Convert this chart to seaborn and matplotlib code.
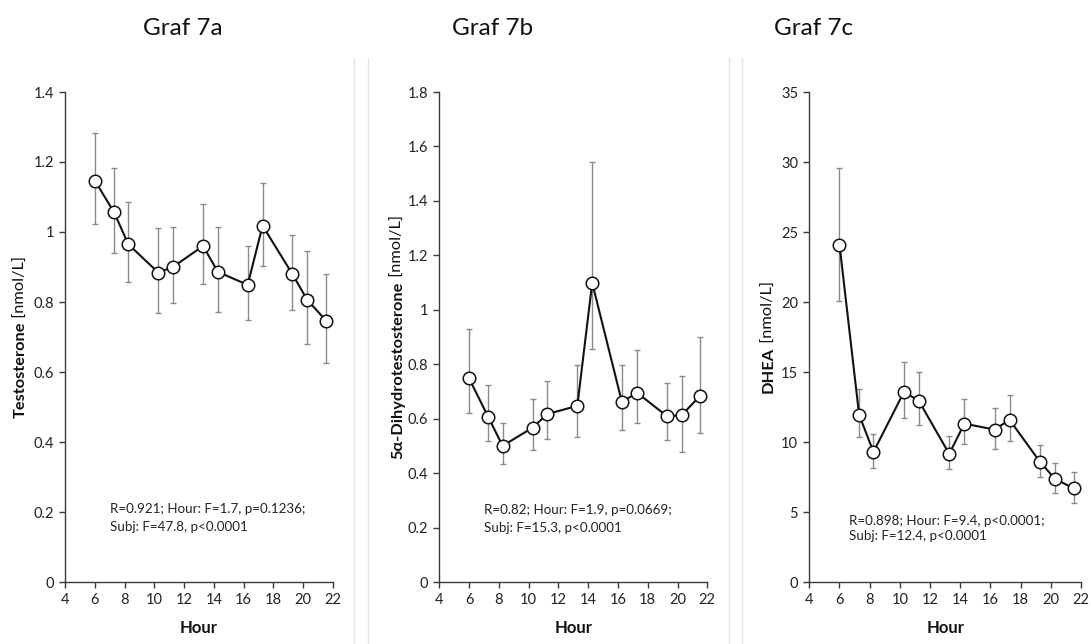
import matplotlib
matplotlib.use("Agg")
import matplotlib.pyplot as plt
from matplotlib.lines import Line2D
from matplotlib.ticker import FuncFormatter, MultipleLocator
import numpy as np
import seaborn as sns

sns.set_style("white")
plt.rcParams["font.family"] = ["Lato", "DejaVu Sans"]

# ---------------- data ----------------
hours = [6.0, 7.3, 8.25, 10.27, 11.25, 13.27, 14.27, 16.27, 17.27, 19.27, 20.27, 21.53]

testo_mean = [1.147, 1.056, 0.965, 0.884, 0.900, 0.960, 0.886, 0.849, 1.018, 0.880, 0.806, 0.747]
testo_upper = [1.282, 1.184, 1.085, 1.012, 1.015, 1.079, 1.014, 0.959, 1.141, 0.991, 0.945, 0.879]
testo_lower = [1.022, 0.940, 0.856, 0.769, 0.798, 0.851, 0.771, 0.749, 0.904, 0.777, 0.680, 0.627]

dht_mean = [0.748, 0.605, 0.500, 0.567, 0.617, 0.647, 1.099, 0.660, 0.696, 0.610, 0.612, 0.685]
dht_upper = [0.928, 0.724, 0.583, 0.672, 0.740, 0.797, 1.543, 0.797, 0.852, 0.730, 0.757, 0.899]
dht_lower = [0.622, 0.517, 0.433, 0.486, 0.524, 0.534, 0.856, 0.558, 0.584, 0.520, 0.479, 0.549]

dhea_mean = [24.10, 11.95, 9.29, 13.57, 12.95, 9.15, 11.31, 10.89, 11.58, 8.60, 7.37, 6.68]
dhea_upper = [29.55, 13.79, 10.58, 15.71, 14.98, 10.43, 13.05, 12.45, 13.34, 9.77, 8.53, 7.89]
dhea_lower = [20.06, 10.39, 8.15, 11.72, 11.22, 8.06, 9.86, 9.49, 10.08, 7.51, 6.37, 5.61]

titles = ["Graf 7a", "Graf 7b", "Graf 7c"]
ylabel_bold = ["Testosterone", "5α-Dihydrotestosterone", "DHEA"]
ylabel_unit = " [nmol/L]"
xlabel = "Hour"
stats_line1 = ["R=0.921; Hour: F=1.7, p=0.1236;",
               "R=0.82; Hour: F=1.9, p=0.0669;",
               "R=0.898; Hour: F=9.4, p<0.0001;"]
stats_line2 = ["Subj: F=47.8, p<0.0001",
               "Subj: F=15.3, p<0.0001",
               "Subj: F=12.4, p<0.0001"]
ymax = [1.4, 1.8, 35]
ystep = [0.2, 0.2, 5]

# ---------------- layout ----------------
W, H = 1091, 644
fig = plt.figure(figsize=(W / 100, H / 100), dpi=100)

ax_px = [(65, 268), (439.3, 268), (809.3, 271.7)]   # left, width in px
ax_top, ax_bot = 92, 582
title_left = [143, 452, 774]
ylab_base_x = [25, 402, 773]
stat_pos = [(7.0, 0.208, 0.156), (7.0, 0.263, 0.197), (6.6, 4.35, 3.25)]

means = [testo_mean, dht_mean, dhea_mean]
uppers = [testo_upper, dht_upper, dhea_upper]
lowers = [testo_lower, dht_lower, dhea_lower]

spine_col = "#3a3a3a"
fig.canvas.draw()
renderer = fig.canvas.get_renderer()

for i in range(3):
    l, w = ax_px[i]
    ax = fig.add_axes([l / W, (H - ax_bot) / H, w / W, (ax_bot - ax_top) / H])
    m = np.array(means[i]); up = np.array(uppers[i]); lo = np.array(lowers[i])
    ax.errorbar(hours, m, yerr=[m - lo, up - m], fmt="none", ecolor="#8a8a8a",
                elinewidth=1.0, capsize=2.5, capthick=1.0, zorder=1)
    sns.lineplot(x=hours, y=means[i], ax=ax, color="#111111", linewidth=1.5,
                 marker="o", markersize=9, markerfacecolor="white",
                 markeredgecolor="#111111", markeredgewidth=1.1,
                 errorbar=None, zorder=3)
    ax.set_xlim(4, 22)
    ax.set_ylim(0, ymax[i])
    ax.xaxis.set_major_locator(MultipleLocator(2))
    ax.yaxis.set_major_locator(MultipleLocator(ystep[i]))
    ax.yaxis.set_major_formatter(FuncFormatter(lambda v, p: f"{v:.10g}" if abs(v) > 1e-9 else "0"))
    for s in ["top", "right"]:
        ax.spines[s].set_visible(False)
    for s in ["left", "bottom"]:
        ax.spines[s].set_color(spine_col)
        ax.spines[s].set_linewidth(1.0)
    ax.tick_params(axis="both", direction="out", length=4, width=1.0,
                   color=spine_col, labelsize=10.5, labelcolor="#222222",
                   left=True, bottom=True, pad=4)
    ax.set_xlabel(xlabel, fontsize=12, fontweight="bold", color="#111111", labelpad=9)
    ax.set_ylabel("")
    ax.set_facecolor("white")

    # stats annotation
    sx, sy1, sy2 = stat_pos[i]
    ax.text(sx, sy1, stats_line1[i], fontsize=9.6, color="#222222", va="center", ha="left")
    ax.text(sx, sy2, stats_line2[i], fontsize=9.6, color="#222222", va="center", ha="left")

    # title
    fig.text(title_left[i] / W, (H - 35) / H, titles[i], fontsize=17.5,
             ha="left", va="baseline", color="#111111")

    # two-part y label (bold name + regular unit)
    tb = fig.text(0, 0, ylabel_bold[i], fontsize=11.8, fontweight="bold",
                  rotation=90, rotation_mode="anchor", ha="left", va="baseline",
                  color="#111111")
    tr = fig.text(0, 0, ylabel_unit, fontsize=11.8, rotation=90,
                  rotation_mode="anchor", ha="left", va="baseline", color="#111111")
    lb = tb.get_window_extent(renderer).height
    lr = tr.get_window_extent(renderer).height
    center_y = H - (ax_top + ax_bot) / 2
    y0 = center_y - (lb + lr) / 2
    bx = ylab_base_x[i]
    tb.set_position((bx / W, y0 / H))
    tr.set_position((bx / W, (y0 + lb) / H))

# light separator lines between panels
for xp in [354, 368, 729, 742]:
    fig.add_artist(Line2D([xp / W, xp / W], [0, (H - 58) / H], color="#e4e4e4",
                          linewidth=1.0, transform=fig.transFigure))

fig.savefig("out.png", dpi=100, facecolor="white")
